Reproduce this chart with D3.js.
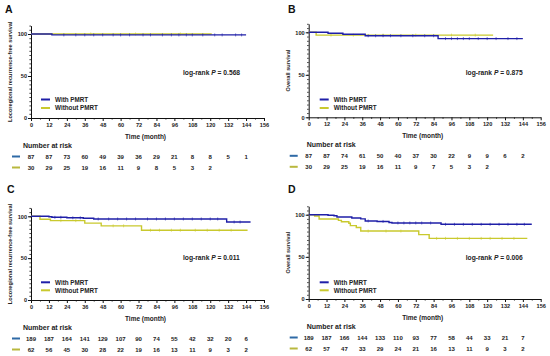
<!DOCTYPE html>
<html><head><meta charset="utf-8">
<script src="https://cdn.jsdelivr.net/npm/d3@7"></script>
<style>
html,body{margin:0;padding:0;background:#fff;}
svg{display:block;font-family:"Liberation Sans",Arial,sans-serif;}
</style></head>
<body><svg id="c" width="550" height="356"></svg>
<script>
// ---------- data ----------
const xTicks = [0,12,24,36,48,60,72,84,96,108,120,132,144,156];
const yTicks = [0,50,100];
const seriesNames = ["With PMRT","Without PMRT"];

// step curves: [time (months), survival %]
const A_with    = [[0,100],[14,98.9],[144,98.9]];
const A_without = [[0,100],[121,100]];
const B_with    = [[0,100],[13,98.9],[23,97.7],[38,95.9],[87,92.6],[144,92.6]];
const B_without = [[0,100],[5,96.7],[124,96.7]];
const C_with    = [[0,100],[12,99.4],[14,98.8],[24,98.2],[35,97.6],[42,96.8],[131,93.2],[147,93.2]];
const C_without = [[0,100],[6,96.4],[13,94.8],[36,91.8],[47,88.6],[74,83.4],[145,83.4]];
const D_with    = [[0,100],[13,99.4],[17,98.8],[19,97.2],[29,96.1],[35,95.0],[38,92.6],[46,92.0],[54,90.8],[56,90.2],[89,88.6],[150,88.6]];
const D_without = [[0,100],[4,98.4],[7,94.9],[20,93.3],[22,91.6],[27,89.9],[28,87.1],[32,84.8],[35,80.6],[74,76.4],[81,71.9],[147,71.9]];

// censoring marks (months)
const A_with_c    = [22,30,36,42,48,55,60,66,75,80,88,94,99,104,108,115,123,128,137,141];
const A_without_c = [40,70,100];
const B_with_c    = [40,45,50,55,62,70,78,84,92,96,100,104,108,114,120,126,134,140];
const B_without_c = [15,30,50,72,96,112];
const C_with_c    = [16,20,28,33,45,52,58,64,70,78,84,90,96,102,108,114,120,125,136,140];
const C_without_c = [20,30,55,62,80,86,94,100,110,118,126,134];
const D_with_c    = [40,50,60,64,68,72,76,82,92,98,104,110,116,122,128,134,140,145];
const D_without_c = [40,52,62,86,92,100,108,116,122,130,138];

// numbers at risk
const A_risk_with    = [87,87,73,60,49,39,36,29,21,8,8,5,1];
const A_risk_without = [30,29,25,19,16,11,9,8,5,3,2];
const B_risk_with    = [87,87,74,61,50,40,37,30,22,9,9,6,2];
const B_risk_without = [30,29,25,19,16,11,9,7,5,3,2];
const C_risk_with    = [189,187,164,141,129,107,90,74,55,42,32,20,6];
const C_risk_without = [62,56,45,30,28,22,19,16,13,11,9,3,2];
const D_risk_with    = [189,187,166,144,133,110,93,77,58,44,33,21,7];
const D_risk_without = [62,57,47,33,29,24,21,16,13,11,9,3,2];
const riskTimes = [0,12,24,36,48,60,72,84,96,108,120,132,144];

const pValues = ["0.568","0.875","0.011","0.006"];
const yLabels = ["Locoregional recurrence-free survival","Overall survival","Locoregional recurrence-free survival","Overall survival"];
const panelLetters = ["A","B","C","D"];

// ---------- layout ----------
const colors = ["#1f1fa8","#c9c92e"];
const riskColors = ["#2f6aa6","#b9b83e"];
const panels = [
  {x0:31,  x1:264,   y100:34,    y0:118, top:0,   nar:23,    lx:5,   curves:[A_with,A_without], cens:[A_with_c,A_without_c], risk:[A_risk_with,A_risk_without]},
  {x0:308.7,x1:540.7,y100:32.3,  y0:117.3,top:0,  nar:306.7, lx:288, curves:[B_with,B_without], cens:[B_with_c,B_without_c], risk:[B_risk_with,B_risk_without]},
  {x0:31,  x1:264,   y100:216.3, y0:300, top:178, nar:23,    lx:7,   curves:[C_with,C_without], cens:[C_with_c,C_without_c], risk:[C_risk_with,C_risk_without]},
  {x0:308.7,x1:540.7,y100:214.7, y0:299, top:178, nar:306.7, lx:288, curves:[D_with,D_without], cens:[D_with_c,D_without_c], risk:[D_risk_with,D_risk_without]}
];

const svg = d3.select("#c");
const txt = "#222";

panels.forEach((p,i)=>{
  const g = svg.append("g");
  const x = d3.scaleLinear().domain([0,156]).range([p.x0,p.x1]);
  const y = d3.scaleLinear().domain([0,100]).range([p.y0,p.y100]);

  // letter
  g.append("text").attr("x", p.lx).attr("y", p.top + 13 + (p.top?2:0))
    .attr("font-size", 10.5).attr("font-weight","bold").attr("fill","#111").text(panelLetters[i]);

  // minor y ticks
  g.append("g").attr("transform",`translate(${p.x0},0)`)
    .call(d3.axisLeft(y).tickValues(d3.range(0,111,5)).tickSize(1.6).tickFormat("").tickSizeOuter(0))
    .call(s=>s.select(".domain").remove())
    .call(s=>s.selectAll("line").attr("stroke","#111").attr("stroke-width",0.8));
  // major y axis
  const ya = d3.scaleLinear().domain([0,110]).range([p.y0, y(110)]);
  g.append("g").attr("transform",`translate(${p.x0},0)`)
    .call(d3.axisLeft(ya).tickValues(yTicks).tickSize(3).tickSizeOuter(0).tickPadding(1))
    .call(s=>{s.select(".domain").attr("stroke","#111").attr("stroke-width",1);
      s.selectAll("line").attr("stroke","#111");
      s.selectAll("text").attr("font-size",5.6).attr("font-weight","bold").attr("fill",txt).attr("font-family",null);});
  // minor x ticks
  g.append("g").attr("transform",`translate(0,${p.y0})`)
    .call(d3.axisBottom(x).tickValues(d3.range(6,156,12)).tickSize(1.6).tickFormat("").tickSizeOuter(0))
    .call(s=>s.select(".domain").remove())
    .call(s=>s.selectAll("line").attr("stroke","#111").attr("stroke-width",0.8));
  // x axis
  g.append("g").attr("transform",`translate(0,${p.y0})`)
    .call(d3.axisBottom(x).tickValues(xTicks).tickSize(3).tickSizeOuter(0).tickPadding(2))
    .call(s=>{s.select(".domain").attr("stroke","#111").attr("stroke-width",1);
      s.selectAll("line").attr("stroke","#111");
      s.selectAll("text").attr("font-size",5.6).attr("font-weight","bold").attr("fill",txt).attr("font-family",null);});

  // y label
  g.append("text").attr("transform",`translate(${p.x0-19},${(p.y0+y(110))/2}) rotate(-90)`)
    .attr("text-anchor","middle").attr("font-size",5.6).attr("font-weight","bold").attr("fill",txt)
    .text(yLabels[i]);
  // x label
  g.append("text").attr("x",(p.x0+p.x1)/2 - 2).attr("y",p.y0+21)
    .attr("text-anchor","middle").attr("font-size",6.5).attr("font-weight","bold").attr("fill",txt).text("Time (month)");

  // curves (without first, with on top)
  const line = d3.line().x(d=>x(d[0])).y(d=>y(d[1])).curve(d3.curveStepAfter);
  [1,0].forEach(k=>{
    g.append("path").datum(p.curves[k]).attr("d",line).attr("fill","none")
      .attr("stroke",colors[k]).attr("stroke-width",1.4);
    const stepVal = t=>{ let v=p.curves[k][0][1]; p.curves[k].forEach(d=>{ if(d[0]<=t) v=d[1]; }); return v; };
    g.selectAll(null).data(p.cens[k]).join("line")
      .attr("x1",t=>x(t)).attr("x2",t=>x(t))
      .attr("y1",t=>y(stepVal(t))-1.5).attr("y2",t=>y(stepVal(t))+1.5)
      .attr("stroke",colors[k]).attr("stroke-width",0.6);
  });

  // log-rank text
  const lr = g.append("text").attr("x", p.x0 + 152 + (i%2?5:0)).attr("y", p.top + (p.top?82:75))
    .attr("font-size",6.7).attr("font-weight","bold").attr("fill",txt);
  lr.append("tspan").text("log-rank ");
  lr.append("tspan").attr("font-style","italic").text("P");
  lr.append("tspan").text(" = " + pValues[i]);

  // legend
  const ly = [p.top + (p.top?104.3:99.5), p.top + (p.top?112.3:108)];
  seriesNames.forEach((n,k)=>{
    const lx = p.x0 + 10 + (i%2?1:0);
    g.append("line").attr("x1",lx).attr("x2",lx+9).attr("y1",ly[k]).attr("y2",ly[k])
      .attr("stroke",colors[k]).attr("stroke-width",2);
    g.append("text").attr("x",lx+14).attr("y",ly[k]+2.2).attr("font-size",6.3).attr("font-weight","bold")
      .attr("fill",txt).text(n);
  });

  // number at risk
  g.append("text").attr("x",p.nar).attr("y",p.y0+29.5).attr("font-size",7).attr("font-weight","bold")
    .attr("fill",txt).text("Number at risk");
  const ry = [p.y0+40.5, p.y0+51.5];
  p.risk.forEach((row,k)=>{
    g.append("line").attr("x1",p.x0-19).attr("x2",p.x0-11).attr("y1",ry[k]-2).attr("y2",ry[k]-2)
      .attr("stroke",riskColors[k]).attr("stroke-width",2);
    g.selectAll(null).data(row).join("text")
      .attr("x",(d,j)=>x(riskTimes[j])).attr("y",ry[k])
      .attr("text-anchor","middle").attr("font-size",6).attr("font-weight","bold").attr("fill",txt)
      .text(d=>d);
  });
});
</script>
</body></html>
